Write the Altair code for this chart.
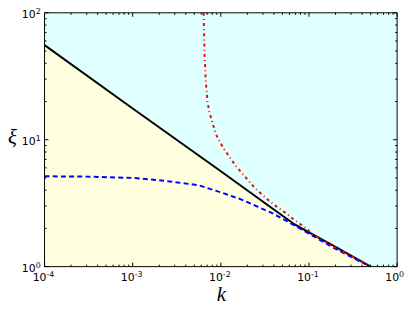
import altair as alt
import pandas as pd

# ---- data ----
black_k = [1e-4, 1e-3, 1e-2, 3.78e-2, 6.89e-2, 1.0e-1, 0.2, 0.3, 0.5]
black_xi = [55.6, 17.6, 5.65, 2.90, 2.15, 1.86, 1.43, 1.22, 1.0]

blue_k = [1e-4, 3e-4, 1e-3, 2e-3, 5.5e-3, 1e-2, 1.67e-2, 2.57e-2, 3.78e-2,
          5.56e-2, 9.73e-2, 0.185, 0.31, 0.5]
blue_xi = [5.15, 5.12, 5.0, 4.8, 4.39, 3.85, 3.40, 2.98, 2.65, 2.29, 1.84,
           1.42, 1.18, 1.0]

red_k = [0.00637, 0.00646, 0.00653, 0.00676, 0.00706, 0.00738, 0.00804,
         0.0086, 0.00914, 0.01087, 0.01466, 0.0207, 0.0245, 0.0361, 0.0449,
         0.0556, 0.0689, 0.0855, 0.111, 0.185, 0.31, 0.5]
red_xi = [100, 69, 48, 28.4, 19.9, 16.7, 13.5, 11.7, 10.4, 8.43, 6.26, 4.73,
          4.14, 3.26, 2.90, 2.62, 2.32, 2.09, 1.80, 1.45, 1.20, 1.0]

major_k = [1e-4, 1e-3, 1e-2, 1e-1, 1.0]
major_k_exp = ["-4", "-3", "-2", "-1", "0"]
minor_k = [m * d for d in [1e-4, 1e-3, 1e-2, 1e-1] for m in range(2, 10)]
major_xi = [1.0, 10.0, 100.0]
major_xi_exp = ["0", "1", "2"]
minor_xi = [m * d for d in [1.0, 10.0] for m in range(2, 10)]

W, H = 357, 257

df_black = pd.DataFrame({"k": black_k, "xi": black_xi, "base": 1.0})
df_blue = pd.DataFrame({"k": blue_k, "xi": blue_xi})
df_red = pd.DataFrame({"k": red_k, "xi": red_xi})

x_scale = alt.Scale(type="log", domain=[1e-4, 1], nice=False)
y_scale = alt.Scale(type="log", domain=[1, 100], nice=False)

x_axis = alt.Axis(values=major_k, ticks=False, domain=False, grid=False,
                  labels=False,
                  title="k", titleFont="Liberation Serif", titleFontStyle="italic",
                  titleFontWeight="normal", titleFontSize=21, titleColor="black",
                  titleY=34, titleBaseline="alphabetic")
y_axis = alt.Axis(values=major_xi, ticks=False, domain=False, grid=False,
                  labels=False,
                  title="ξ", titleFont="Liberation Serif", titleFontStyle="italic",
                  titleFontWeight="normal", titleFontSize=21, titleColor="black",
                  titleAngle=0, titleX=-33, titleY=132, titleAlign="center",
                  titleBaseline="alphabetic")


def X():
    return alt.X("k:Q", scale=x_scale, axis=x_axis)


def Y():
    return alt.Y("xi:Q", scale=y_scale, axis=y_axis)


area = alt.Chart(df_black).mark_area(color="#ffffe0", clip=True).encode(
    x=X(), y=Y(), y2="base:Q")
black = alt.Chart(df_black).mark_line(color="black", strokeWidth=2, clip=True).encode(
    x=X(), y=Y())
blue = alt.Chart(df_blue).mark_line(color="#0000ff", strokeWidth=2,
                                    strokeDash=[5, 3.3], clip=True).encode(x=X(), y=Y())
red = alt.Chart(df_red).mark_line(color="#ff0000", strokeWidth=2,
                                  strokeDash=[3, 3.2, 1, 3.2], clip=True).encode(x=X(), y=Y())

layers = [area, black, blue, red]

# inward ticks on all four sides
for vals, ln in [(major_k, 4), (minor_k, 2)]:
    d = pd.DataFrame({"k": vals})
    layers.append(alt.Chart(d).mark_rule(color="black", strokeWidth=1).encode(
        x=X(), y=alt.value(H), y2=alt.value(H - ln)))
    layers.append(alt.Chart(d).mark_rule(color="black", strokeWidth=1).encode(
        x=X(), y=alt.value(0), y2=alt.value(ln)))
for vals, ln in [(major_xi, 4), (minor_xi, 2)]:
    d = pd.DataFrame({"xi": vals})
    layers.append(alt.Chart(d).mark_rule(color="black", strokeWidth=1).encode(
        y=Y(), x=alt.value(0), x2=alt.value(ln)))
    layers.append(alt.Chart(d).mark_rule(color="black", strokeWidth=1).encode(
        y=Y(), x=alt.value(W), x2=alt.value(W - ln)))

# tick labels "10" with superscript exponents
xlab = pd.DataFrame({"k": major_k, "b": ["10"] * len(major_k), "e": major_k_exp})
layers.append(alt.Chart(xlab).mark_text(
    align="right", baseline="alphabetic", font="DejaVu Sans", fontSize=11,
    color="black", dx=2).encode(x=X(), y=alt.value(H + 15), text="b:N"))
layers.append(alt.Chart(xlab).mark_text(
    align="left", baseline="alphabetic", font="DejaVu Sans", fontSize=8,
    color="black", dx=2).encode(x=X(), y=alt.value(H + 11), text="e:N"))

ylab = pd.DataFrame({"xi": major_xi, "b": ["10"] * len(major_xi), "e": major_xi_exp})
layers.append(alt.Chart(ylab).mark_text(
    align="right", baseline="alphabetic", font="DejaVu Sans", fontSize=11,
    color="black", dy=5).encode(y=Y(), x=alt.value(-9), text="b:N"))
layers.append(alt.Chart(ylab).mark_text(
    align="left", baseline="alphabetic", font="DejaVu Sans", fontSize=8,
    color="black", dy=1).encode(y=Y(), x=alt.value(-9), text="e:N"))

frame = alt.Chart(pd.DataFrame({"a": [0]})).mark_rect(
    fill="transparent", stroke="black", strokeWidth=1).encode(
    x=alt.value(0), x2=alt.value(W), y=alt.value(0), y2=alt.value(H))
layers.append(frame)

chart = alt.layer(*layers).properties(
    width=W, height=H,
    padding={"left": 37, "top": 3, "right": 10, "bottom": 38},
    autosize=alt.AutoSizeParams(type="none"),
).configure_view(stroke="transparent", fill="#e0ffff")

chart.save("out.html", embed_options={"renderer": "svg", "actions": False})
